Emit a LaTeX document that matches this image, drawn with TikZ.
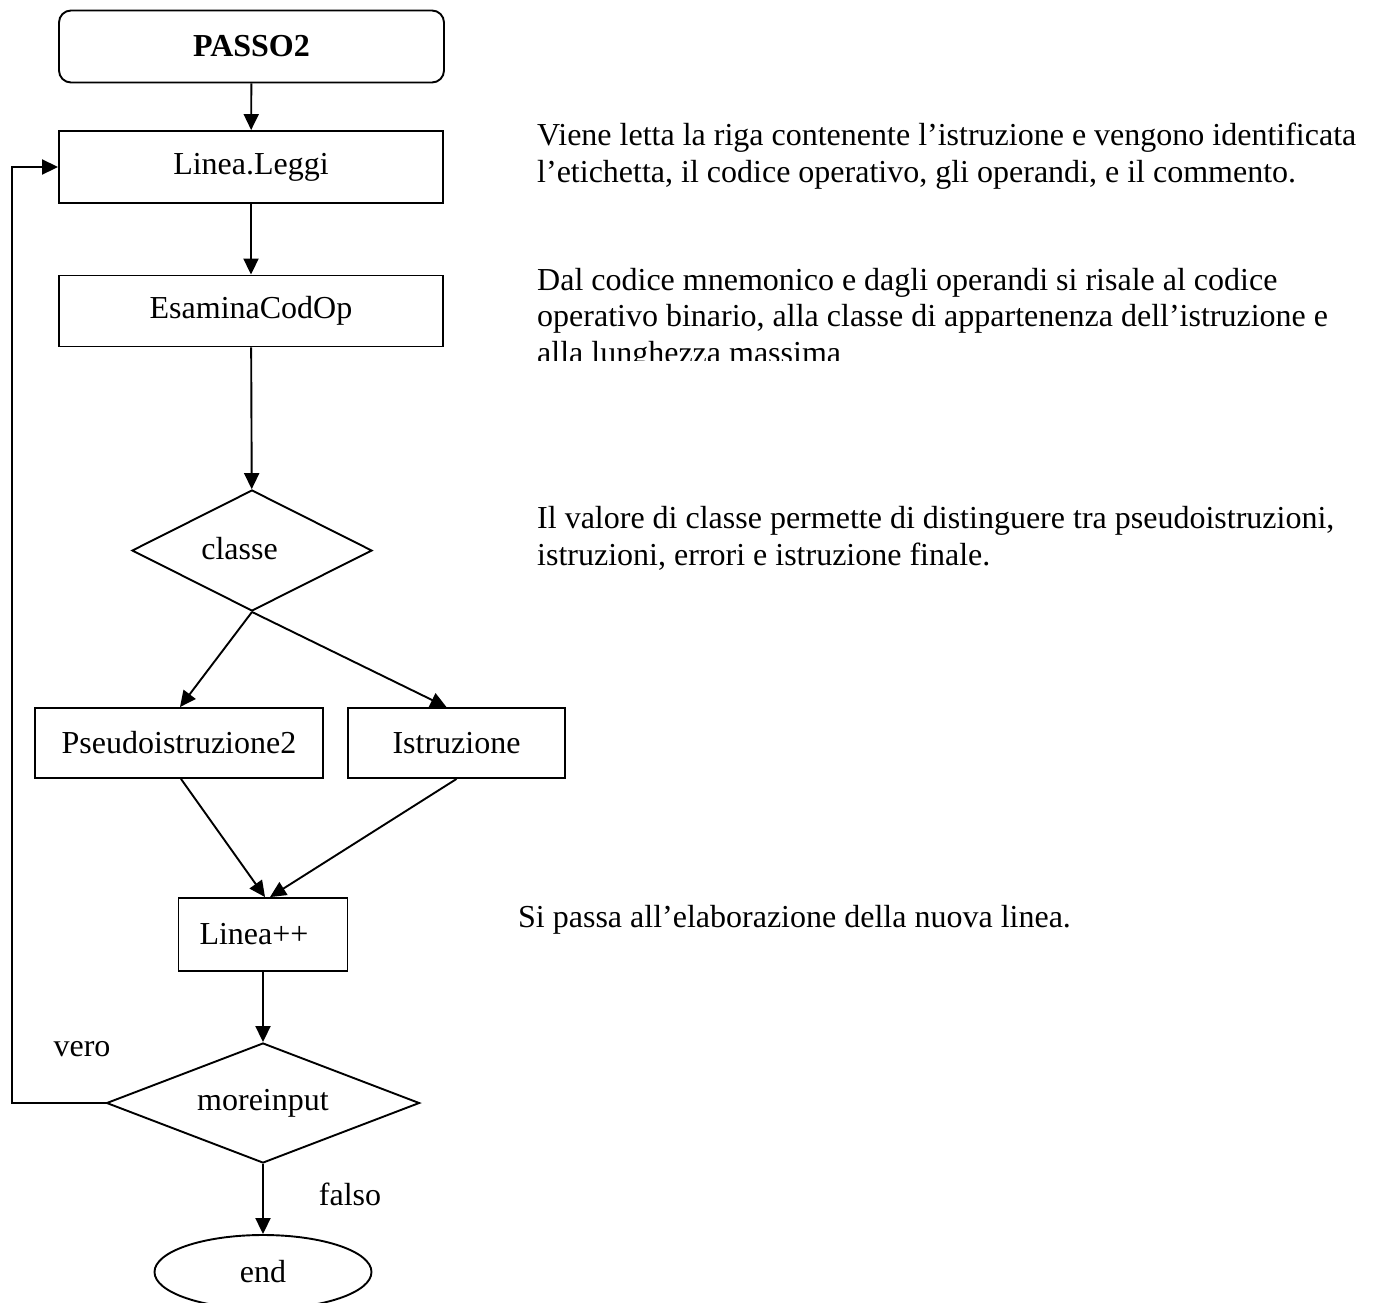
\documentclass[tikz,border=0pt]{standalone}
\usepackage{fontspec}
\setmainfont{Liberation Serif}
\usetikzlibrary{arrows.meta,shapes.geometric}

\tikzset{
  every node/.style={font=\fontsize{32}{36.5}\selectfont},
  base/.style={draw, line width=1.9pt, inner sep=0pt},
  proc/.style={base, rectangle},
  start/.style={base, rectangle, rounded corners=12pt},
  test/.style={base, diamond, aspect=2},
  stop/.style={base, ellipse},
  flow/.style={line width=1.9pt, -{Triangle[length=16pt,width=15pt]}},
  note/.style={anchor=base west, inner sep=0pt, align=left},
  tag/.style={inner sep=0pt}
}

\begin{document}
\begin{tikzpicture}[x=1pt,y=-1pt]
  \clip (0,0) rectangle (1374,1302);
  \fill[white] (0,0) rectangle (1374,1302);

  % flowchart nodes
  \node[start, minimum width=385pt, minimum height=72pt] (passo) at (251.5,46.5) {\textbf{PASSO2}};
  \node[proc, minimum width=384pt, minimum height=72pt] (leggi) at (251,167) {Linea.Leggi};
  \node[proc, minimum width=384pt, minimum height=71pt] (esamina) at (251,311) {EsaminaCodOp};
  \node[test, minimum width=240pt, minimum height=121pt] (classe) at (252,550.5) {};
  \node[tag, anchor=base] (classetxt) at (239.5,559) {classe};
  \node[proc, minimum width=288pt, minimum height=70pt] (pseudo) at (179,743) {Pseudoistruzione2};
  \node[proc, minimum width=217pt, minimum height=70pt] (istr) at (456.5,743) {Istruzione};
  \node[proc, minimum height=73pt, text width=127pt, inner xsep=21pt, align=left] (linpp) at (263,934.5) {Linea++};
  \node[test, minimum width=313pt, minimum height=120pt] (more) at (263,1103) {moreinput};
  \node[stop, minimum width=217pt, minimum height=74pt] (fine) at (263,1272) {end};

  \node[tag] (vero) at (82,1049) {vero};
  \node[tag] (falso) at (350,1194) {falso};
  \coordinate (loop) at (12,0);

  % connectors
  \draw[flow] (passo) -- (leggi);
  \draw[flow] (leggi) -- (esamina);
  \draw[flow] (esamina) -- (classe);
  \draw[flow] (classe.south) -- ([xshift=1pt]pseudo.north);
  \draw[flow] (classe.south) -- ([xshift=-10pt]istr.north);
  \draw[flow] ([xshift=2pt]pseudo.south) -- ([xshift=2pt]linpp.north);
  \draw[flow] (istr.south) -- ([xshift=7pt]linpp.north);
  \draw[flow] (linpp) -- (more);
  \draw[flow] (more) -- (fine);
  \draw[flow] (more.west) -- (more.west -| loop) -- (loop |- leggi.west) -- (leggi.west);

  % explanatory notes (multi-line notes sit on the baseline of their last line)
  \node[note] (n1) at (537,182) {Viene letta la riga contenente l’istruzione e vengono identificata\\l’etichetta, il codice operativo, gli operandi, e il commento.};
  \begin{scope}
    \clip (500,250) rectangle (1374,360.5);
    \node[note] (n2) at (537,363) {Dal codice mnemonico e dagli operandi si risale al codice\\operativo binario, alla classe di appartenenza dell’istruzione e\\alla lunghezza massima};
  \end{scope}
  \node[note] (n3) at (537,565) {Il valore di classe permette di distinguere tra pseudoistruzioni,\\istruzioni, errori e istruzione finale.};
  \node[note] (n4) at (518,927) {Si passa all’elaborazione della nuova linea.};
\end{tikzpicture}
\end{document}
